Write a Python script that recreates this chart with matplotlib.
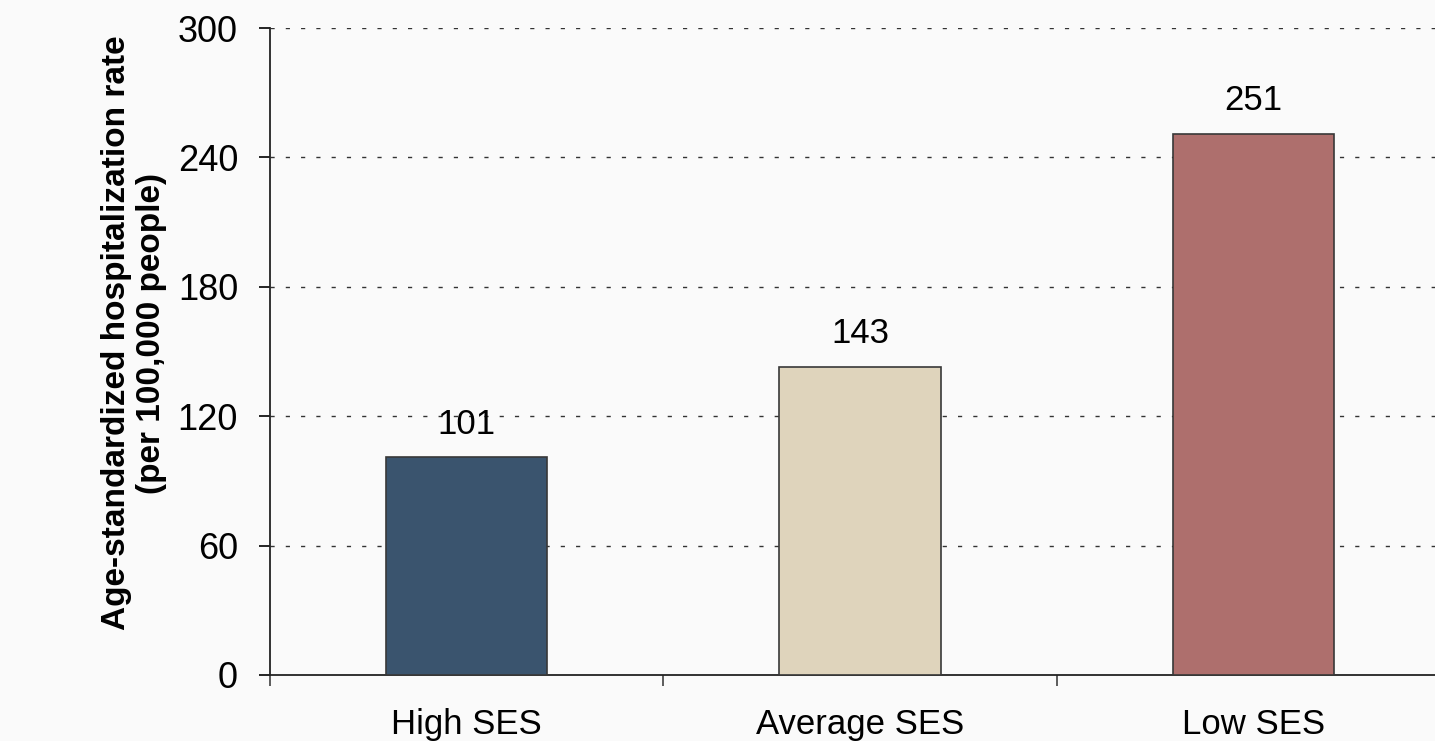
import matplotlib.pyplot as plt
import numpy as np

plt.rcParams['font.family'] = ['Liberation Sans', 'DejaVu Sans']

categories = ['High SES', 'Average SES', 'Low SES']
rates = [101, 143, 251]
bar_colors = ['#3a546e', '#dfd4bc', '#ae6f6d']
yticks = [0, 60, 120, 180, 240, 300]

fig = plt.figure(figsize=(14.35, 7.41), dpi=100, facecolor='#fafafa')
# the plot area runs past the right edge of the picture, as in the original
ax = fig.add_axes([270 / 1435, 66 / 741, 1180 / 1435, 647 / 741])
ax.set_facecolor('#fafafa')

x = np.arange(len(categories))
bars = ax.bar(x, rates, width=0.41, color=bar_colors, edgecolor='#383838',
              linewidth=1.2, zorder=3)

for xi, v in zip(x, rates):
    ax.annotate(str(v), xy=(xi, v), xytext=(0, 12), textcoords='offset points',
                ha='center', va='bottom', fontsize=25)

ax.set_xlim(-0.5, 2.5)
ax.set_ylim(0, 300)
ax.set_yticks(yticks)
ax.set_yticklabels([str(t) for t in yticks], fontsize=26)

# boundary ticks as major, category names on minor
ax.set_xticks([-0.5, 0.5, 1.5, 2.5])
ax.set_xticklabels([])
ax.set_xticks(x, minor=True)
ax.set_xticklabels(categories, minor=True, fontsize=25)
ax.tick_params(axis='x', which='major', direction='out', length=8, width=1.2, color='#404040')
ax.tick_params(axis='x', which='minor', length=0, pad=24)
ax.tick_params(axis='y', direction='out', length=8, width=1.2, pad=15)

for yv in yticks[1:]:
    ax.axhline(yv, color='#333333', linewidth=1, linestyle=(0, (3, 8)), zorder=1)

for s in ['top', 'right']:
    ax.spines[s].set_visible(False)
for s in ['left', 'bottom']:
    ax.spines[s].set_linewidth(1.3)
    ax.spines[s].set_color('#222222')

fig.text(134 / 1435, 1 - 333 / 741,
         'Age-standardized hospitalization rate\n(per 100,000 people)',
         rotation=90, ha='center', va='center', fontsize=24, fontweight='bold',
         linespacing=1.15)

fig.savefig('out.png', dpi=100, facecolor=fig.get_facecolor())
